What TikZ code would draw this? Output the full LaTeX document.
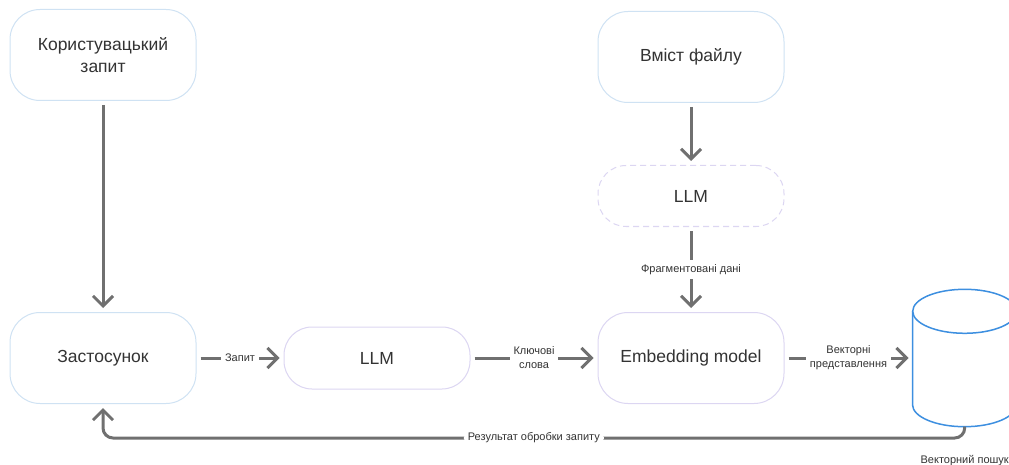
\documentclass[tikz,border=0pt]{standalone}
\usepackage{fontspec}
\setmainfont{Liberation Sans}
\usetikzlibrary{arrows.meta,calc,positioning}
\definecolor{boxblue}{HTML}{CFE2F3}
\definecolor{boxlilac}{HTML}{DCD6F2}
\definecolor{flowgray}{HTML}{707070}
\definecolor{txtgray}{HTML}{333333}
\definecolor{dbblue}{HTML}{3D8FE0}
\tikzset{every picture/.style={
  >={Straight Barb[length=10pt,width=20pt,line width=3pt]}  % open chevron tips.
  }
}

\begin{document}
\begin{tikzpicture}[
        x=1pt, y=1pt,
        font=\fontsize{17.5}{22}\selectfont,
        text=txtgray,
        box/.style={
          draw=boxblue,
          line width=1pt,
          fill=white,
          rounded corners=30pt,
          minimum width=186pt,
          minimum height=91pt,
          align=center
        },
        llmbox/.style={
          box,
          draw=boxlilac,
          rounded corners=28pt,
          minimum height=62pt
        },
        flow/.style={
          ->,
          draw=flowgray,
          line width=3pt,
          shorten <=4pt,
          shorten >=4pt
        },
        lbl/.style={
          fill=white,
          inner sep=4pt,
          align=center,
          font=\fontsize{11}{14}\selectfont
        },
        dbline/.style={
          draw=dbblue,
          line width=1.5pt,
          fill=white
        }]

        % Fix the page size.
        \useasboundingbox (0,0) rectangle (1009,-465);

        % Left column.
        \node[box] (query) at (103,-55) {Користувацький\\запит};
        \node[box, below=211pt of query] (app) {Застосунок};

        % Middle row.
        \node[llmbox, right=87pt of app] (llm) {LLM};
        \node[box, draw=boxlilac, right=127pt of llm] (embed) {Embedding model};

        % Right column.
        \node[box, above=209pt of embed] (file) {Вміст файлу};
        \node[llmbox, dashed, dash pattern=on 6pt off 4pt,
          minimum height=61pt, below=62pt of file] (chunk) {LLM};

        % Vector store (cylinder drawn on an empty frame).
        \node[inner sep=0pt, minimum width=104pt, minimum height=137pt,
          right=128pt of embed] (db) {};
        \draw[dbline] ($(db.north west)+(0,-22)$) -- ($(db.south west)+(0,22)$)
          arc[start angle=180, end angle=360, x radius=52, y radius=22]
          -- ($(db.north east)+(0,-22)$);
        \draw[dbline] ($(db.north)+(0,-22)$) ellipse[x radius=52, y radius=22];
        \node[lbl, below=24pt of db.south] (dbname) {Векторний пошук};

        % Connectors.
        \draw[flow] (query) -- (app);
        \draw[flow] (file) -- (chunk);
        \draw[flow] (chunk) -- node[lbl] {Фрагментовані дані} (embed);
        \draw[flow] (app) -- node[lbl] {Запит} (llm);
        \draw[flow] (llm) -- node[lbl] {Ключові\\слова} (embed);
        \draw[flow] (embed) -- node[lbl] {Векторні\\представлення} (db);

        % Result back to the app.
        \coordinate[below=34pt of app.south] (turn);
        \draw[flow, shorten <=0pt, rounded corners=10pt] (db.south)
          |- node[lbl, pos=0.75] {Результат обробки запиту} (turn)
          -- (app.south);
      \end{tikzpicture}
\end{document}
